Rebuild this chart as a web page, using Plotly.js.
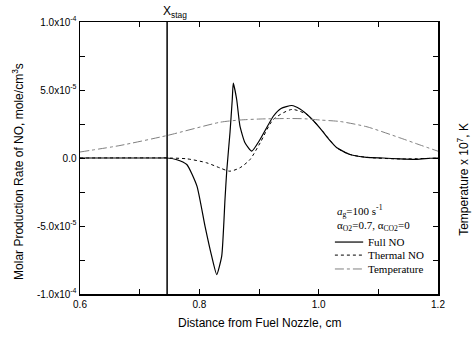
<!DOCTYPE html>
<html><head><meta charset="utf-8">
<script src="https://cdn.plot.ly/plotly-3.0.1.min.js"></script>
<style>body{margin:0;background:#fff}</style></head>
<body><div id="chart" style="width:475px;height:337px"></div>
<script>
// Distance from fuel nozzle, cm
const distanceFull = [0.600, 0.734, 0.746, 0.761, 0.779, 0.796, 0.8095, 0.8207, 0.8291, 0.8375, 0.843, 0.8459, 0.8514, 0.8552, 0.8569, 0.8626, 0.8681, 0.8765, 0.8878, 0.9017, 0.924, 0.9369, 0.9548, 0.9687, 0.9855, 1.0022, 1.0165, 1.0305, 1.0525, 1.0805, 1.1078, 1.1363, 1.1648, 1.1866, 1.200];
const fullNO = [0, 0, 0, -1.1e-6, -4.8e-6, -2.07e-5, -5.01e-5, -7.22e-5, -8.57e-5, -7.22e-5, -3.05e-5, -9.7e-6, 1.88e-5, 4.3e-5, 5.5e-5, 4.3e-5, 2.34e-5, 1.12e-5, 5.0e-6, 1.36e-5, 3.07e-5, 3.64e-5, 3.86e-5, 3.6e-5, 3.0e-5, 2.2e-5, 1.4e-5, 7.5e-6, 2.6e-6, 5e-7, 0, -7e-7, -1e-6, -2e-7, 0];

const distanceThermal = [0.600, 0.746, 0.779, 0.812, 0.834, 0.851, 0.868, 0.885, 0.902, 0.924, 0.955, 0.980, 1.0022, 1.0305, 1.0525, 1.0805, 1.1363, 1.200];
const thermalNO = [0, 0, -6e-7, -3.5e-6, -7.2e-6, -9.7e-6, -7.2e-6, -1.1e-6, 1.12e-5, 2.83e-5, 3.57e-5, 3.2e-5, 2.2e-5, 7.5e-6, 2.6e-6, 5e-7, -7e-7, 0];

const distanceTemp = [0.600, 0.667, 0.746, 0.835, 0.868, 0.902, 0.952, 0.977, 1.002, 1.036, 1.081, 1.136, 1.170, 1.200];
const temperature = [353, 735, 1323, 2106, 2235, 2294, 2323, 2306, 2235, 2147, 1835, 1188, 765, 400];

const xStag = 0.746;
const stagRateRange = [-1e-4, 1e-4];

const xTickVals = [0.6, 0.7, 0.8, 0.9, 1.0, 1.1, 1.2];
const xTickText = ['0.6', '', '0.8', '', '1.0', '', '1.2'];
const yTickVals = [-1e-4, -7.5e-5, -5e-5, -2.5e-5, 0, 2.5e-5, 5e-5, 7.5e-5, 1e-4];
const yTickText = ['-1.0x10<sup>-4</sup>', '', '-5.0x10<sup>-5</sup>', '', '0.0', '', '5.0x10<sup>-5</sup>', '', '1.0x10<sup>-4</sup>'];

const seriesNames = ['Full NO', 'Thermal NO', 'Temperature'];

const sans = 'Liberation Sans, Arial, sans-serif';
const serif = 'Liberation Serif, Times New Roman, serif';

const styles = [
  {color: '#000', width: 1.2, dash: 'solid'},
  {color: '#000', width: 1, dash: 'dot'},
  {color: '#808080', width: 1, dash: 'dashdot'}
];

const traces = [
  {x: distanceFull, y: fullNO, name: seriesNames[0], mode: 'lines', showlegend: false,
   line: Object.assign({shape: 'spline', smoothing: 0.5}, styles[0])},
  {x: distanceThermal, y: thermalNO, name: seriesNames[1], mode: 'lines', showlegend: false,
   line: Object.assign({shape: 'spline', smoothing: 0.7}, styles[1])},
  {x: distanceTemp, y: temperature, name: seriesNames[2], mode: 'lines', yaxis: 'y2', showlegend: false,
   line: Object.assign({shape: 'spline', smoothing: 0.6}, styles[2])},
  {x: [xStag, xStag], y: stagRateRange, mode: 'lines', showlegend: false,
   line: {color: '#000', width: 1.5}, hoverinfo: 'skip'}
];

// Hand-built legend (samples + labels) to match the compact spacing
const legendY = [0.191, 0.143, 0.092];
const legendShapes = seriesNames.map((n, i) => ({
  type: 'line', xref: 'paper', yref: 'paper', x0: 0.712, x1: 0.791, y0: legendY[i], y1: legendY[i],
  line: {color: styles[i].color, width: styles[i].width, dash: styles[i].dash}
}));
const legendLabels = seriesNames.map((n, i) => ({
  xref: 'paper', yref: 'paper', x: 0.799, y: legendY[i], xanchor: 'left', yanchor: 'middle',
  showarrow: false, text: n, font: {family: serif, size: 11, color: '#000'}
}));

const layout = {
  width: 475, height: 337,
  margin: {l: 80, r: 37, t: 22, b: 43},
  paper_bgcolor: '#fff', plot_bgcolor: '#fff',
  showlegend: false,
  xaxis: {range: [0.6, 1.2], tickmode: 'array', tickvals: xTickVals, ticktext: xTickText,
          ticks: 'inside', ticklen: 5, tickwidth: 1, tickcolor: '#000',
          showline: true, linewidth: 1.5, linecolor: '#000', mirror: 'ticks',
          showgrid: false, zeroline: false,
          tickfont: {family: sans, size: 10, color: '#000'}},
  yaxis: {range: [-1e-4, 1e-4], tickmode: 'array', tickvals: yTickVals, ticktext: yTickText,
          ticks: 'inside', ticklen: 5, tickwidth: 1, tickcolor: '#000',
          showline: true, linewidth: 1.5, linecolor: '#000', mirror: 'ticks',
          showgrid: false, zeroline: false,
          tickfont: {family: sans, size: 10, color: '#000'}},
  yaxis2: {overlaying: 'y', side: 'right', range: [-8000, 8000],
           showticklabels: false, showline: false, ticks: '', showgrid: false, zeroline: false},
  shapes: legendShapes,
  annotations: [
    {xref: 'paper', yref: 'paper', x: 0.5, y: -0.075, yanchor: 'top', showarrow: false,
     text: 'Distance from Fuel Nozzle, cm', font: {family: sans, size: 12, color: '#000'}},
    {xref: 'paper', yref: 'paper', x: -0.175, y: 0.45, xanchor: 'center', yanchor: 'middle',
     showarrow: false, textangle: -90,
     text: 'Molar Production Rate of NO, mole/cm<sup>3</sup>s', font: {family: sans, size: 12, color: '#000'}},
    {xref: 'paper', yref: 'paper', x: 1.07, y: 0.42, xanchor: 'center', yanchor: 'middle',
     showarrow: false, textangle: -90,
     text: 'Temperature x 10<sup>7</sup>, K', font: {family: sans, size: 12, color: '#000'}},
    {xref: 'x', yref: 'paper', x: xStag, y: 1.0, xanchor: 'left', yanchor: 'bottom', xshift: -6,
     showarrow: false, text: 'X<sub>stag</sub>', font: {family: sans, size: 12, color: '#000'}},
    {xref: 'paper', yref: 'paper', x: 0.712, y: 0.305, xanchor: 'left', yanchor: 'middle', showarrow: false,
     text: '<i>a</i><sub>g</sub>=100 s<sup>-1</sup>', font: {family: serif, size: 11, color: '#000'}},
    {xref: 'paper', yref: 'paper', x: 0.712, y: 0.25, xanchor: 'left', yanchor: 'middle', showarrow: false,
     text: 'α<sub>O2</sub>=0.7, α<sub>CO2</sub>=0', font: {family: serif, size: 11, color: '#000'}}
  ].concat(legendLabels)
};

Plotly.newPlot('chart', traces, layout, {displayModeBar: false, staticPlot: true});
</script></body></html>
